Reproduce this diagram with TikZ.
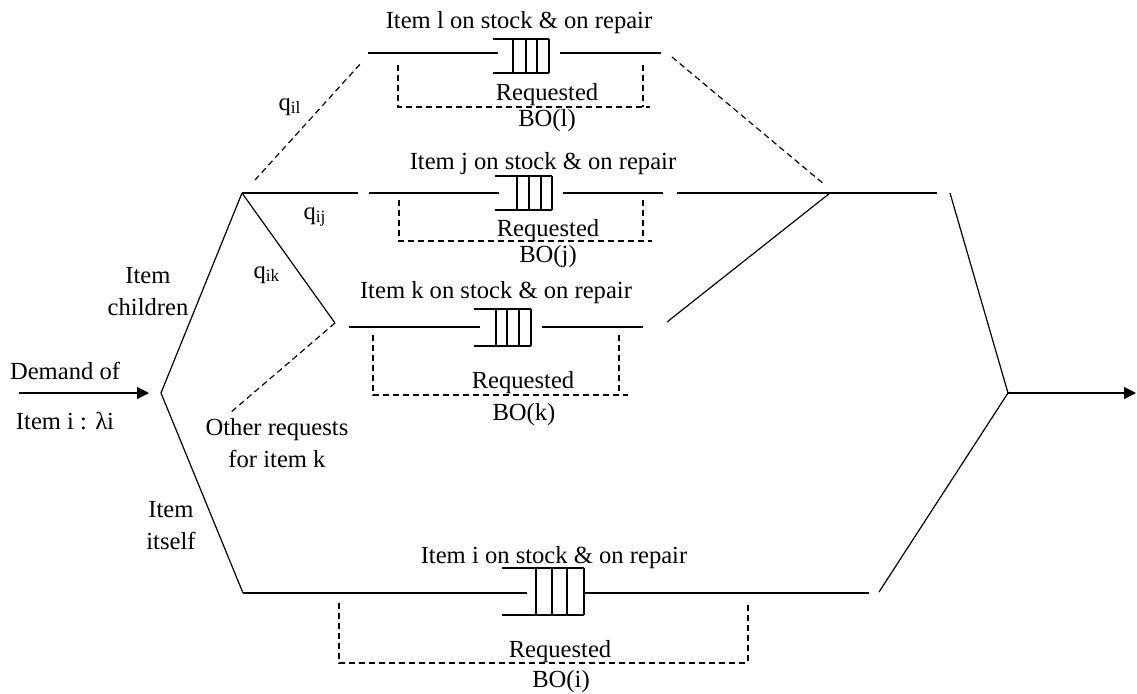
\documentclass[tikz,border=0pt]{standalone}
\usepackage{fontspec}
\setmainfont{Liberation Serif}
\usetikzlibrary{arrows.meta}

% queue of a stock point: top/bottom lines and the cells
\newcommand{\stockqueue}[5]{%
  \draw (#1,#3) -- (#2,#3) (#1,#4) -- (#2,#4);
  \foreach \vx in {#5} {\draw (\vx,#3) -- (\vx,#4);}}

\begin{document}
\begin{tikzpicture}[x=0.5pt,y=-0.5pt,line width=0.6pt,
    txt/.style={inner sep=0pt,anchor=base,font=\fontsize{12.3}{16}\selectfont},
    bo/.style={dash pattern=on 3pt off 2pt},
    >={Triangle[length=6pt,width=6pt]}]
\useasboundingbox (0,0) rectangle (1137,693);

% junctions
\coordinate (src) at (19,393);
\coordinate (tip) at (149,393);
\coordinate (in) at (161,393);
\coordinate (br) at (242,193);
\coordinate (kb) at (335,323);
\coordinate (okend) at (230,413);
\coordinate (jr) at (830,193);
\coordinate (out) at (1008,393);
\coordinate (snk) at (1136,393);

% row l
\coordinate (l0) at (255,180);
\coordinate (l1) at (362,62);
\coordinate (l2) at (368,53);
\coordinate (l3) at (498,53);
\coordinate (l4) at (560,53);
\coordinate (l5) at (661,53);
\coordinate (l6) at (672,57);
\coordinate (l7) at (825,185);
% row j
\coordinate (j1) at (358,193);
\coordinate (j2) at (369,193);
\coordinate (j3) at (499,193);
\coordinate (j4) at (563,193);
\coordinate (j5) at (663,193);
\coordinate (j6) at (677,193);
\coordinate (j7) at (937,193);
\coordinate (j8) at (950,193);
% row k
\coordinate (k1) at (349,327);
\coordinate (k2) at (480,327);
\coordinate (k3) at (542,327);
\coordinate (k4) at (643,327);
\coordinate (k5) at (667,322);
% row i
\coordinate (i0) at (243,593);
\coordinate (i1) at (527,593);
\coordinate (i2) at (584,593);
\coordinate (i3) at (869,593);
\coordinate (i4) at (879,592);

\draw[->] (src) -- (tip);
\draw (br) -- (in) -- (i0);
\draw (br) -- (j1);
\draw (br) -- (kb);
\draw[bo] (kb) -- (okend);
\draw[bo] (l0) -- (l1);
\draw (l2) -- (l3) (l4) -- (l5);
\draw[bo] (l6) -- (l7);
\draw (j2) -- (j3) (j4) -- (j5);
\draw (j6) -- (jr) -- (j7);
\draw (k5) -- (jr);
\draw (k1) -- (k2) (k3) -- (k4);
\draw (i0) -- (i1) (i2) -- (i3);
\draw (j8) -- (out) -- (i4);
\draw[->] (out) -- (snk);

\stockqueue{493}{549}{39}{73}{513,526,537,549}
\stockqueue{495}{552}{176}{210}{517,529,541,552}
\stockqueue{474}{531}{309}{346}{496,507,519,531}
\stockqueue{502}{584}{568}{615}{536,552,567,584}

% requested backorders
\draw[bo] (398,65) |- (650,107);  \draw[bo] (643,65) -- (643,107);
\draw[bo] (399,200) |- (652,241); \draw[bo] (643,200) -- (643,241);
\draw[bo] (373,335) |- (628,395); \draw[bo] (619,335) -- (619,395);
\draw[bo] (339,603) |- (748,663); \draw[bo] (748,605) -- (748,663);

\node[txt] (tl) at (519,28) {Item l on stock \& on repair};
\node[txt] (rl) at (547,100) {Requested};
\node[txt] (bl) at (547,126) {BO(l)};
\node[txt] (tj) at (543,169) {Item j on stock \& on repair};
\node[txt] (rj) at (548,236) {Requested};
\node[txt] (bj) at (548,262) {BO(j)};
\node[txt] (tk) at (496,298) {Item k on stock \& on repair};
\node[txt] (rk) at (523,388) {Requested};
\node[txt] (bk) at (524,420) {BO(k)};
\node[txt] (ti) at (554,563) {Item i on stock \& on repair};
\node[txt] (ri) at (560,657) {Requested};
\node[txt] (bi) at (561,687) {BO(i)};

\node[txt,anchor=base west] (qil) at (278,110) {q\textsubscript{il}};
\node[txt,anchor=base west] (qij) at (303,219) {q\textsubscript{ij}};
\node[txt,anchor=base west] (qik) at (253,278) {q\textsubscript{ik}};

\node[txt,align=center] (chl) at (148,315) {Item\\children};
\node[txt,align=center] (slf) at (171,549) {Item\\itself};
\node[txt,align=center] (oth) at (277,467) {Other requests\\for item k};
\node[txt] (dem) at (65,379) {Demand of};
\node[txt] (lam) at (65,429) {Item i : λi};
\end{tikzpicture}
\end{document}
